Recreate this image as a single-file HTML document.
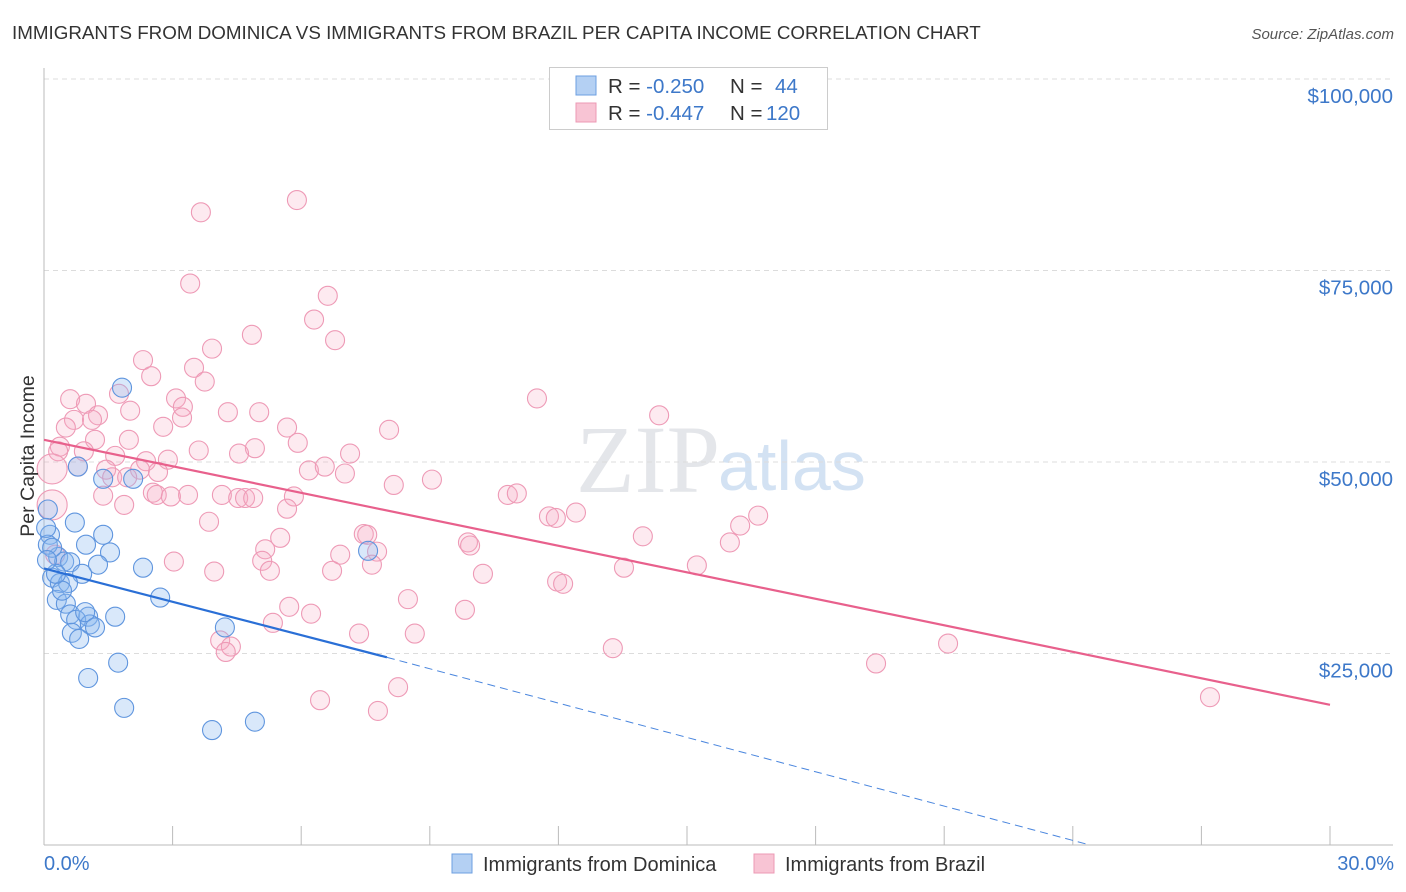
<!DOCTYPE html>
<html><head><meta charset="utf-8"><style>
body{margin:0;background:#fff;font-family:"Liberation Sans",sans-serif;}
svg{display:block}
</style></head><body>
<svg id="chart" width="1406" height="892" xmlns="http://www.w3.org/2000/svg">
<text x="12" y="39" font-size="18.8" fill="#333">IMMIGRANTS FROM DOMINICA VS IMMIGRANTS FROM BRAZIL PER CAPITA INCOME CORRELATION CHART</text>
<text x="1394" y="39" font-size="15" fill="#555" font-style="italic" text-anchor="end">Source: ZipAtlas.com</text>
<text x="720" y="492" font-size="96" fill="#e4e6ea" font-family="Liberation Serif" text-anchor="end">ZIP</text>
<text x="718" y="490" font-size="70" fill="#d3e2f3">atlas</text>
<g id="grid"></g><g id="axes"></g><g id="pts"></g><g id="lines"></g>
<text transform="translate(34,456) rotate(-90)" font-size="19.5" fill="#333" text-anchor="middle">Per Capita Income</text>
<text x="44" y="870" font-size="20" fill="#3d78c9">0.0%</text>
<text x="1394" y="870" font-size="20" fill="#3d78c9" text-anchor="end">30.0%</text>
<g>
<rect x="549.5" y="67.5" width="278" height="62" fill="#fff" stroke="#ccc"/>
<rect x="576" y="76" width="20" height="19" fill="#b4d0f3" stroke="#6d9fe0"/>
<rect x="576" y="103" width="20" height="19" fill="#f8c4d4" stroke="#ec9ab4"/>
<text x="608" y="93" font-size="20.5" fill="#333">R = <tspan fill="#3d78c9">-0.250</tspan><tspan x="730">N = </tspan><tspan x="775" fill="#3d78c9">44</tspan></text>
<text x="608" y="120" font-size="20.5" fill="#333">R = <tspan fill="#3d78c9">-0.447</tspan><tspan x="730">N = </tspan><tspan x="766" fill="#3d78c9">120</tspan></text>
</g>
<g>
<rect x="452" y="854" width="20" height="19" fill="#b4d0f3" stroke="#6d9fe0"/>
<text x="483" y="871" font-size="20" fill="#333">Immigrants from Dominica</text>
<rect x="754" y="854" width="20" height="19" fill="#f8c4d4" stroke="#ec9ab4"/>
<text x="785" y="871" font-size="20" fill="#333">Immigrants from Brazil</text>
</g>
</svg>
<script>
const yTicks=[25000,50000,75000,100000];
const yTickLabels=["$25,000","$50,000","$75,000","$100,000"];
const xTicks=[0,3,6,9,12,15,18,21,24,27,30];
const blueX=[1.82,0.79,1.38,2.08,0.09,0.72,1.38,0.14,0.98,1.54,0.33,0.47,0.61,1.26,2.31,7.56,0.19,0.89,0.37,0.56,0.30,0.51,2.71,0.61,1.03,1.66,0.75,1.07,0.65,0.82,4.22,1.73,1.03,1.87,3.92,4.92,0.09,0.05,0.19,0.42,0.28,0.96,1.19,0.07];
const blueY=[59.7,49.4,47.8,47.8,43.8,42.1,40.5,40.5,39.2,38.2,37.6,37.0,36.9,36.6,36.2,38.4,34.9,35.4,34.2,34.2,32.0,31.5,32.3,30.1,29.8,29.8,29.4,28.8,27.7,26.9,28.4,23.8,21.8,17.9,15.0,16.1,39.2,41.4,38.8,33.2,35.4,30.4,28.4,37.2];
const pinkX=[5.90,3.66,3.41,6.62,6.30,6.79,4.85,3.92,2.31,3.50,2.50,3.75,11.50,1.75,0.61,0.98,3.08,3.24,2.01,4.29,5.02,14.35,1.26,0.70,1.12,3.22,0.51,2.78,5.67,8.05,1.19,1.98,5.92,0.37,0.33,0.93,4.92,3.61,4.55,7.14,1.66,2.38,2.89,0.79,1.45,2.24,2.66,0.19,6.18,6.55,7.02,1.59,1.94,9.05,8.16,2.54,2.63,3.36,1.38,2.96,4.15,4.53,4.69,4.88,5.83,10.82,11.03,0.19,1.87,5.67,16.66,16.24,11.78,11.94,12.41,3.85,7.46,7.54,5.51,13.97,9.89,9.94,16.0,5.16,7.77,6.91,0.26,5.09,3.03,7.65,13.53,15.23,3.97,5.27,6.72,10.24,11.97,12.11,8.49,5.72,6.23,9.82,5.34,7.35,8.65,4.11,4.36,4.24,13.27,21.09,19.41,8.26,6.44,7.79,27.20];
const pinkY=[84.2,82.6,73.3,71.7,68.6,65.9,66.6,64.8,63.3,62.3,61.2,60.5,58.3,58.9,58.2,57.6,58.3,57.2,56.7,56.5,56.5,56.1,56.1,55.5,55.5,55.8,54.5,54.6,54.5,54.2,52.9,52.9,52.5,52.0,51.4,51.4,51.8,51.5,51.1,51.1,50.8,50.1,50.3,49.4,49.0,49.0,48.7,49.1,48.9,49.4,48.5,48.0,48.0,47.7,47.0,46.0,45.7,45.7,45.6,45.5,45.7,45.3,45.3,45.3,45.5,45.7,45.9,44.4,44.4,43.9,43.0,41.7,42.9,42.7,43.4,42.2,40.6,40.5,40.1,40.3,39.5,39.1,39.5,38.6,38.3,37.9,37.9,37.1,37.0,36.6,36.2,36.5,35.7,35.8,35.8,35.4,34.4,34.1,32.1,31.1,30.2,30.7,29.0,27.6,27.6,26.7,25.9,25.2,25.7,26.3,23.7,20.6,18.9,17.5,19.3];
const pinkBig=[47,67];
const blueLineX=[0,8.0,24.4];
const blueLineY=[36.1,24.5,0];
const pinkLineX=[0,30];
const pinkLineY=[52.9,18.3];
const NS="http://www.w3.org/2000/svg";
const xs=v=>44+v*(1330-44)/30;
const ys=v=>845-v*(845-79)/100;
function mk(tag,attrs,parent){const e=document.createElementNS(NS,tag);for(const k in attrs)e.setAttribute(k,attrs[k]);parent.appendChild(e);return e;}
const grid=document.getElementById('grid'),axes=document.getElementById('axes'),pts=document.getElementById('pts'),lines=document.getElementById('lines');
yTicks.forEach((t,i)=>{
 const l=mk('line',{x1:44,x2:1393,y1:ys(t/1000),y2:ys(t/1000),stroke:'#dcdcdc','stroke-dasharray':'5,4'},grid);
 
 
 const tx=mk('text',{x:1393,y:ys(t/1000)+24,'font-size':20.5,fill:'#3d78c9','text-anchor':'end'},grid);
 tx.textContent=yTickLabels[i];
 
 
});
const ya=mk('line',{x1:44,x2:44,y1:68,y2:845,stroke:'#bbb'},axes);


const xa=mk('line',{x1:44,x2:1393,y1:845,y2:845,stroke:'#bbb'},axes);


xTicks.forEach(t=>{
 const tk=mk('line',{x1:xs(t),x2:xs(t),y1:826,y2:845,stroke:'#bbb'},axes);
 
 
});
pinkX.forEach((x,i)=>{
 const c=mk('circle',{cx:xs(x),cy:ys(pinkY[i]),r:pinkBig.includes(i)?15:9.5,fill:'rgba(246,170,195,0.25)',stroke:'#ee9ab6','stroke-width':1.1},pts);
 
 
});
blueX.forEach((x,i)=>{
 const c=mk('circle',{cx:xs(x),cy:ys(blueY[i]),r:9.5,fill:'rgba(140,185,240,0.33)',stroke:'#5f95de','stroke-width':1.1},pts);
 
 
});
const pl=mk('line',{x1:xs(pinkLineX[0]),y1:ys(pinkLineY[0]),x2:xs(pinkLineX[1]),y2:ys(pinkLineY[1]),stroke:'#e8608c','stroke-width':2.2},lines);


const bl=mk('line',{x1:xs(blueLineX[0]),y1:ys(blueLineY[0]),x2:xs(blueLineX[1]),y2:ys(blueLineY[1]),stroke:'#2a6fd6','stroke-width':2.2},lines);


const bd=mk('line',{x1:xs(blueLineX[1]),y1:ys(blueLineY[1]),x2:xs(blueLineX[2]),y2:ys(blueLineY[2]),stroke:'#4a86de','stroke-width':1,'stroke-dasharray':'8,5'},lines);


</script>
</body></html>
